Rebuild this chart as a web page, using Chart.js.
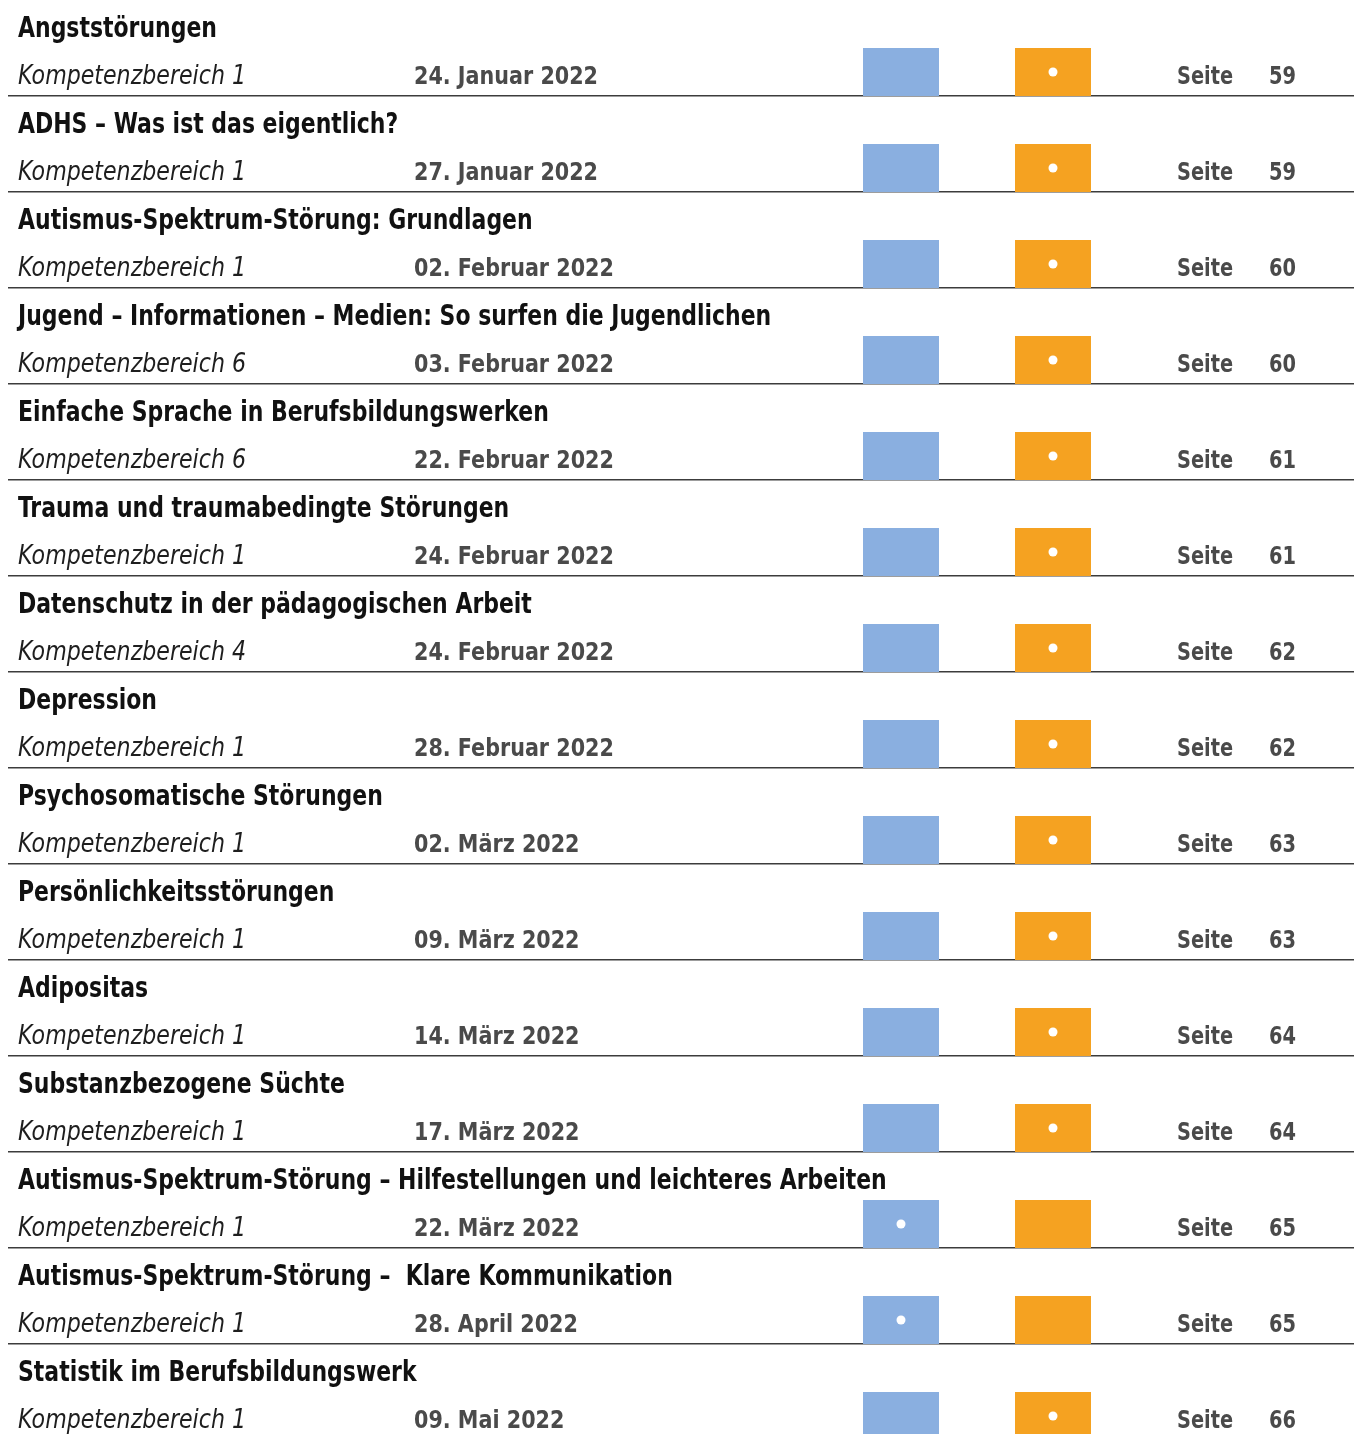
<!doctype html>
<html lang="de">
<head>
  <meta charset="utf-8">
  <title>Seminare 2022</title>
  <script src="https://cdn.jsdelivr.net/npm/chart.js@4.4.1/dist/chart.umd.min.js"></script>
  <style>
    html, body { margin: 0; padding: 0; overflow: hidden; background: #fff; }
    .tafel { position: relative; width: 1354px; height: 1440px; }
  </style>
</head>
<body>
<div class="tafel">
  <canvas id="myChart"></canvas>
</div>

<script>
// Seminarliste
var titel = [
  "Angststörungen",
  "ADHS – Was ist das eigentlich?",
  "Autismus-Spektrum-Störung: Grundlagen",
  "Jugend – Informationen – Medien: So surfen die Jugendlichen",
  "Einfache Sprache in Berufsbildungswerken",
  "Trauma und traumabedingte Störungen",
  "Datenschutz in der pädagogischen Arbeit",
  "Depression",
  "Psychosomatische Störungen",
  "Persönlichkeitsstörungen",
  "Adipositas",
  "Substanzbezogene Süchte",
  "Autismus-Spektrum-Störung – Hilfestellungen und leichteres Arbeiten",
  "Autismus-Spektrum-Störung –  Klare Kommunikation",
  "Statistik im Berufsbildungswerk"
];
var bereich = [1, 1, 1, 6, 6, 1, 4, 1, 1, 1, 1, 1, 1, 1, 1];
var datum = [
  "24. Januar 2022", "27. Januar 2022", "02. Februar 2022", "03. Februar 2022",
  "22. Februar 2022", "24. Februar 2022", "24. Februar 2022", "28. Februar 2022",
  "02. März 2022", "09. März 2022", "14. März 2022", "17. März 2022",
  "22. März 2022", "28. April 2022", "09. Mai 2022"
];
var seite = [59, 59, 60, 60, 61, 61, 62, 62, 63, 63, 64, 64, 65, 65, 66];
// welches Kästchen markiert ist: 0 = blau, 1 = orange
var markiert = [1, 1, 1, 1, 1, 1, 1, 1, 1, 1, 1, 1, 0, 0, 1];

// Layout (x-Einheiten = Pixel ab linkem Rand des Diagrammbereichs)
var spalten = [[855, 931], [1007, 1083]];
var farben = ['#8aafe0', '#f5a221'];
var FONT = '"DejaVu Sans Condensed", "DejaVu Sans", sans-serif';
// Textstile: Schrift, Farbe, Zeile (Anteil der Zeilenhöhe), x, Referenzbreite zum Stauchen
var stile = {
  titel:   { font: 'bold 28px ' + FONT,   color: '#111',    zeile: 0.383, x: 10,   ref: ['Angststörungen', 199] },
  bereich: { font: 'italic 26px ' + FONT, color: '#1e1e1e', zeile: 0.877, x: 10,   ref: ['Kompetenzbereich 1', 228] },
  datum:   { font: 'bold 25px ' + FONT,   color: '#4a4a4a', zeile: 0.877, x: 406,  ref: ['24. Januar 2022', 184] },
  seite:   { font: 'bold 25px ' + FONT,   color: '#4a4a4a', zeile: 0.877, x: 1169, ref: ['Seite', 56] },
  nr:      { font: 'bold 25px ' + FONT,   color: '#4a4a4a', zeile: 0.877, x: 1261, ref: ['59', 27] }
};

function kaestchen(k) {
  return titel.map(function (t, i) { return { x: spalten[k], y: i + 0.75 }; });
}

function schreibe(ctx, stil, text, px, py) {
  ctx.font = stil.font;
  var sx = stil.ref[1] / ctx.measureText(stil.ref[0]).width;
  ctx.save();
  ctx.translate(px, py);
  ctx.scale(sx, 1);
  ctx.fillStyle = stil.color;
  ctx.fillText(text, 0, 0);
  ctx.restore();
}

var textPlugin = {
  id: 'zeilentext',
  afterDatasetsDraw: function (chart) {
    var ctx = chart.ctx, xs = chart.scales.x, ys = chart.scales.y;
    ctx.save();
    ctx.textBaseline = 'alphabetic';
    titel.forEach(function (t, i) {
      var teile = {
        titel: t,
        bereich: 'Kompetenzbereich ' + bereich[i],
        datum: datum[i],
        seite: 'Seite',
        nr: String(seite[i])
      };
      Object.keys(teile).forEach(function (k) {
        var s = stile[k];
        schreibe(ctx, s, teile[k], xs.getPixelForValue(s.x), ys.getPixelForValue(i + s.zeile));
      });
    });
    ctx.restore();
  }
};

var ctx = document.getElementById('myChart').getContext('2d');
var myChart = new Chart(ctx, {
  type: 'bar',
  data: {
    datasets: [{
      label: 'blau',
      data: kaestchen(0),
      backgroundColor: farben[0],
      order: 2
    }, {
      label: 'orange',
      data: kaestchen(1),
      backgroundColor: farben[1],
      order: 2
    }, {
      label: 'Punkt',
      type: 'scatter',
      data: markiert.map(function (k, i) {
        return { x: (spalten[k][0] + spalten[k][1]) / 2, y: i + 0.75 };
      }),
      pointRadius: 4.5,
      pointBackgroundColor: '#fff',
      pointBorderWidth: 0,
      order: 1
    }]
  },
  options: {
    indexAxis: 'y',
    responsive: true,
    maintainAspectRatio: false,
    animation: false,
    grouped: false,
    categoryPercentage: 0.5,
    barPercentage: 1,
    layout: { autoPadding: false, padding: { left: 8, right: 0, top: 0, bottom: 0 } },
    plugins: { legend: { display: false }, tooltip: { enabled: false } },
    scales: {
      x: {
        type: 'linear', min: 0, max: 1346, display: false
      },
      y: {
        type: 'linear', min: 0, max: 15, reverse: true, offset: false,
        ticks: { display: false, stepSize: 1 },
        border: { display: false },
        grid: {
          offset: false,
          drawTicks: false,
          lineWidth: 1.6,
          color: function (c) {
            var v = c.tick && c.tick.value;
            return (v > 0 && v < 15) ? '#3c3c3c' : 'rgba(0,0,0,0)';
          }
        },
        afterFit: function (s) { s.width = 0; }
      }
    }
  },
  plugins: [textPlugin]
});
</script>
</body>
</html>
